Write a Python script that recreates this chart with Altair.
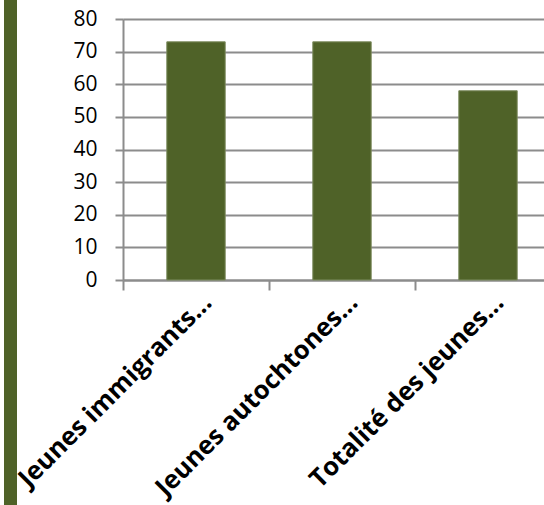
import altair as alt
import pandas as pd

categories = ["Jeunes immigrants...", "Jeunes autochtones...", "Totalité des jeunes..."]
values = [73, 73, 58]
y_ticks = [0, 10, 20, 30, 40, 50, 60, 70, 80]

df = pd.DataFrame({"cat": categories, "val": values})

GREEN = "#4F6228"
FONT = "Open Sans"

x_enc = alt.X(
    "cat:N",
    sort=categories,
    title=None,
    scale=alt.Scale(range=[0, 438], paddingInner=0.6, paddingOuter=0.3),
    axis=alt.Axis(
        labelAngle=315,
        labelAlign="right",
        labelBaseline="middle",
        labelFont=FONT,
        labelFontSize=25.5,
        labelFontWeight="bold",
        labelColor="#000000",
        labelOffset=84,
        labelPadding=8,
        labelLimit=0,
        labelOverlap=False,
        tickOffset=-73,
        tickSize=10,
        tickColor="#8c8c8c",
        tickWidth=2,
        domainColor="#8c8c8c",
        domainWidth=2,
        grid=False,
    ),
)

bars = alt.Chart(df).mark_bar(color=GREEN, stroke="#7d8c5e", strokeWidth=1).encode(
    x=x_enc,
    y=alt.Y(
        "val:Q",
        title=None,
        scale=alt.Scale(domain=[0, 80], nice=False),
        axis=alt.Axis(
            values=y_ticks,
            labelFont=FONT,
            labelFontSize=21,
            labelColor="#000000",
            labelPadding=18,
            tickSize=8,
            tickColor="#8c8c8c",
            tickWidth=2,
            domainColor="#8c8c8c",
            domainWidth=2,
            gridColor="#8c8c8c",
            gridWidth=2,
        ),
    ),
)

strip = alt.Chart(pd.DataFrame({"s": [1]})).mark_rect(color=GREEN).encode(
    x=alt.value(-119),
    x2=alt.value(-106),
    y=alt.value(-19),
    y2=alt.value(486),
)

chart = alt.layer(bars, strip).properties(
    width=421,
    height=261,
    autosize=alt.AutoSizeParams(type="none"),
    padding={"left": 123, "top": 19, "right": 0, "bottom": 225},
).configure_view(stroke=None).configure(background="white")

chart.save("out.html", embed_options={"renderer": "svg", "actions": False})
